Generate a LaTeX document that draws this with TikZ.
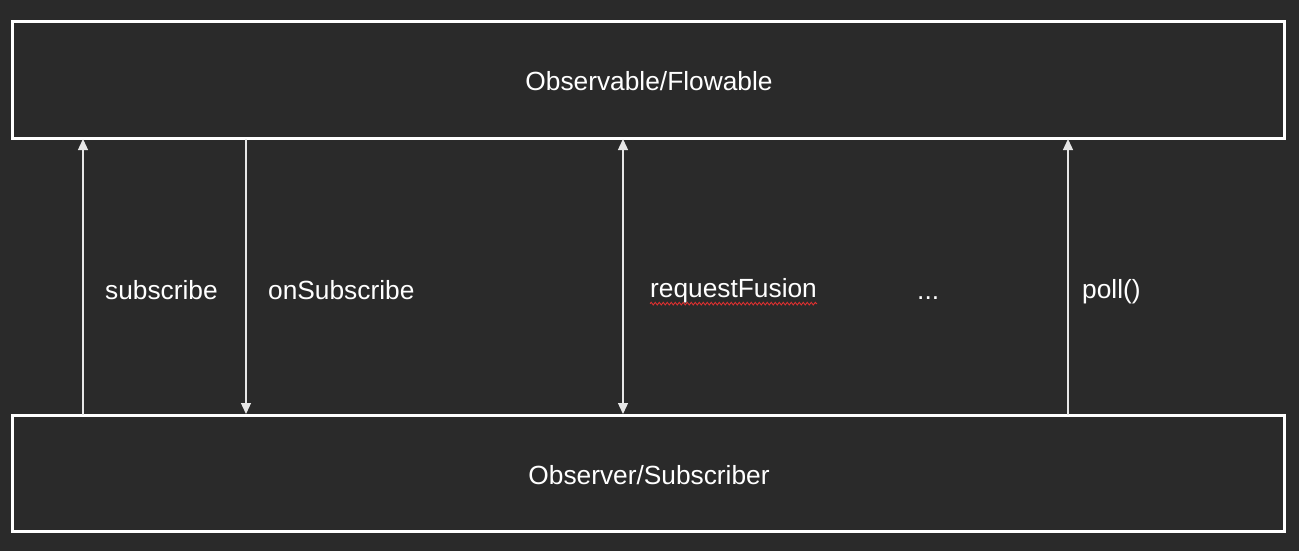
\documentclass[tikz,border=0pt]{standalone}
\usepackage{fontspec}
\setmainfont{Liberation Sans}
\usetikzlibrary{arrows.meta,decorations.pathmorphing}
\definecolor{bg}{HTML}{2A2A2A}
\definecolor{ln}{HTML}{E6E6E6}
\definecolor{sp}{HTML}{E03030}
\tikzset{
  box/.style={draw=white, line width=3pt, fill=bg, minimum width=1272pt, minimum height=116pt, inner sep=0pt},
  lbl/.style={text=white, font=\fontsize{26.3pt}{30pt}\selectfont, anchor=base west, inner sep=0pt},
  ttl/.style={text=white, font=\fontsize{26.3pt}{30pt}\selectfont, anchor=base, inner sep=0pt},
  conn/.style={draw=ln, line width=1.3pt},
  tip/.style={-{Triangle[length=11pt,width=10pt]}},
  spell/.style={draw=sp, line width=0.9pt, decorate, decoration={snake, amplitude=1.3pt, segment length=4pt}}
}
\begin{document}
\begin{tikzpicture}[x=1pt,y=-1pt]
\fill[bg] (0,0) rectangle (1299,551);
\useasboundingbox (0,0) rectangle (1299,551);
\node[box] (top) at (648,80) {};
\node[box] (bot) at (648,473) {};
\node[ttl] (toptxt) at (649,90) {Observable/Flowable};
\node[ttl] (bottxt) at (649,484) {Observer/Subscriber};
% connector endpoints on box borders
\coordinate (a1) at (83,415);   \coordinate (a2) at (83,139);
\coordinate (b1) at (246,139);  \coordinate (b2) at (246,414);
\coordinate (c1) at (623,139);  \coordinate (c2) at (623,414);
\coordinate (d1) at (1068,415); \coordinate (d2) at (1068,139);
\draw[conn,tip] (a1) -- (a2);
\draw[conn,tip] (b1) -- (b2);
\draw[conn,{Triangle[length=11pt,width=10pt]}-{Triangle[length=11pt,width=10pt]}] (c1) -- (c2);
\draw[conn,tip] (d1) -- (d2);
\node[lbl] (l1) at (105,299) {subscribe};
\node[lbl] (l2) at (268,299) {onSubscribe};
\node[lbl] (l3) at (650,297) {requestFusion};
\node[lbl] (l4) at (917,299) {...};
\node[lbl] (l5) at (1082,298) {poll()};
\draw[spell] ([yshift=-1pt]l3.south west) -- ([yshift=-1pt]l3.south east);
\end{tikzpicture}
\end{document}
